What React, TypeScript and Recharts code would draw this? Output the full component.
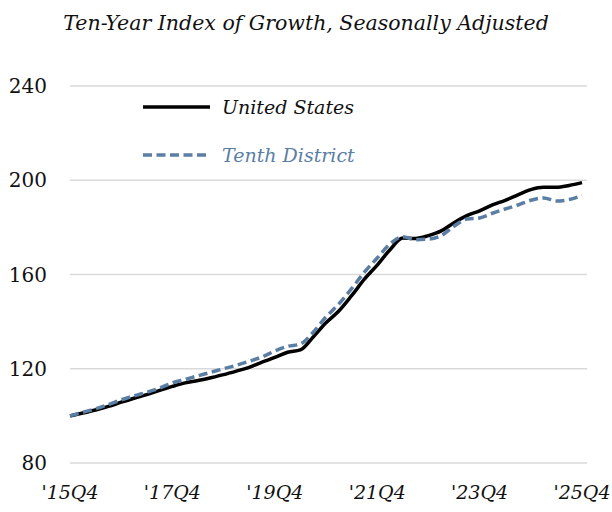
import React from 'react';
import { LineChart, Line, XAxis, YAxis, CartesianGrid } from 'recharts';

const quarters = [
  "'15Q4", "'16Q1", "'16Q2", "'16Q3", "'16Q4", "'17Q1", "'17Q2", "'17Q3", "'17Q4",
  "'18Q1", "'18Q2", "'18Q3", "'18Q4", "'19Q1", "'19Q2", "'19Q3", "'19Q4",
  "'20Q1", "'20Q2", "'20Q3", "'20Q4", "'21Q1", "'21Q2", "'21Q3", "'21Q4",
  "'22Q1", "'22Q2", "'22Q3", "'22Q4", "'23Q1", "'23Q2", "'23Q3", "'23Q4",
  "'24Q1", "'24Q2", "'24Q3", "'24Q4", "'25Q1", "'25Q2", "'25Q3", "'25Q4",
];

const unitedStates = [
  100, 101.2, 102.5, 104, 105.8, 107.5, 109, 110.8, 112.5,
  114, 115, 116.2, 117.5, 119, 120.6, 122.8, 124.8,
  127, 128, 133.5, 139.5, 144.5, 151, 158, 164,
  170.5, 175.5, 175.3, 176.5, 178.5, 182, 185, 187,
  189.5, 191.5, 193.8, 196, 197, 197, 197.8, 199,
];

const tenthDistrict = [
  100, 101.5, 103, 104.8, 106.8, 108.5, 110, 111.8, 114,
  115.5, 117, 118.5, 120, 121.5, 123.2, 125, 127.5,
  129.5, 130.5, 135.5, 142, 147.5, 154, 161, 167,
  173, 176, 174.8, 175, 176.5, 180.5, 183.5, 184,
  186, 187.8, 189.5, 191.5, 192.5, 191.2, 191.8, 193.5,
];

const yTicks = [80, 120, 160, 200, 240];

const data = quarters.map((q, i) => ({
  quarter: q,
  us: unitedStates[i],
  tenth: tenthDistrict[i],
}));

const serif = "'DejaVu Serif', 'Liberation Serif', serif";
const blue = '#5a7ea4';

function LegendBox() {
  const rows = [
    { label: 'United States', color: '#000', dash: undefined, textColor: '#111' },
    { label: 'Tenth District', color: blue, dash: '9 4.5', textColor: blue },
  ];
  return (
    <div
      style={{
        position: 'absolute',
        top: 83,
        left: 143,
        fontFamily: serif,
        fontStyle: 'italic',
        fontSize: 19,
      }}
    >
      {rows.map((r) => (
        <div key={r.label} style={{ display: 'flex', alignItems: 'center', height: 48 }}>
          <svg width={79} height={10}>
            <line x1={0} y1={5} x2={67} y2={5} stroke={r.color} strokeWidth={3.5} strokeDasharray={r.dash} />
          </svg>
          <span style={{ color: r.textColor }}>{r.label}</span>
        </div>
      ))}
    </div>
  );
}

export default function App() {
  return (
    <div style={{ position: 'absolute', left: 0, top: 0, width: 612, height: 512, background: '#fff' }}>
      <LineChart width={612} height={512} data={data} margin={{ top: 86, right: 25, bottom: 0, left: 0 }}>
        <CartesianGrid vertical={false} stroke="#d9d9d9" strokeWidth={1.5} />
        <XAxis
          dataKey="quarter"
          interval={7}
          axisLine={false}
          tickLine={false}
          tickSize={0}
          tickMargin={23}
          height={49}
          padding={{ left: 0, right: 5 }}
          tick={{ fill: '#111', fontSize: 19, fontFamily: serif, fontStyle: 'italic' }}
        />
        <YAxis
          domain={[80, 240]}
          ticks={yTicks}
          width={70}
          axisLine={false}
          tickLine={false}
          tickSize={0}
          tickMargin={23}
          tick={{ fill: '#111', fontSize: 20, fontFamily: serif }}
        />
        <Line
          type="monotone"
          dataKey="us"
          name="United States"
          stroke="#000"
          strokeWidth={3.5}
          dot={false}
          isAnimationActive={false}
        />
        <Line
          type="monotone"
          dataKey="tenth"
          name="Tenth District"
          stroke={blue}
          strokeWidth={3.5}
          strokeDasharray="9 4.5"
          dot={false}
          isAnimationActive={false}
        />
      </LineChart>
      <div
        style={{
          position: 'absolute',
          top: 11,
          left: 0,
          width: 612,
          textAlign: 'center',
          fontFamily: serif,
          fontStyle: 'italic',
          fontSize: 20.5,
          color: '#111',
        }}
      >
        Ten-Year Index of Growth, Seasonally Adjusted
      </div>
      <LegendBox />
    </div>
  );
}
